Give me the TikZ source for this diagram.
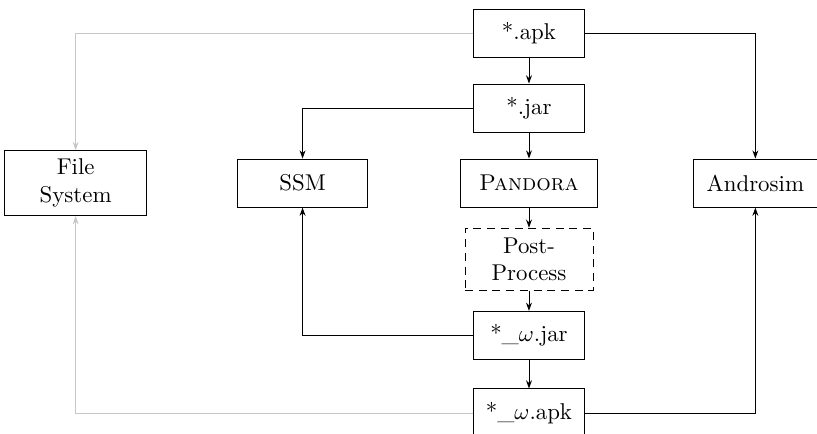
\documentclass[tikz,border=0pt]{standalone}
\usepackage{amsmath,amssymb}
\usepackage{tikz}
\usetikzlibrary{arrows.meta,positioning}

\begin{document}
\begin{tikzpicture}[>={Stealth[length=3.6pt,width=2.6pt]},
	   b/.style={draw, align=center, minimum width=1.72cm, minimum height=0.74cm},
	   faint/.style={black!22}]
	  \useasboundingbox (0,0) rectangle (12.566,-6.675);
	  \node[b] (apk) at (8.136,-0.508) {*.apk};
	  \node[b, below=0.4cm of apk] (jar) {*.jar};
	  \node[b, minimum width=2.107cm, below=0.4cm of jar] (pandora) {\textsc{Pandora}};
	  \node[b, minimum width=1.969cm, minimum height=0.954cm, dash pattern=on 3.5pt off 2.5pt, below=0.31cm of pandora] (post) {Post-\\Process};
	  \node[b, below=0.31cm of post] (wjar) {*\_$\omega$.jar};
	  \node[b, below=0.44cm of wjar] (wapk) {*\_$\omega$.apk};
	  \node[b, minimum width=2.0cm, left=1.415cm of pandora] (ssm) {SSM};
	  \node[b, minimum width=2.184cm, minimum height=1.0cm, left=1.384cm of ssm] (fs) {File\\System};
	  \node[b, minimum width=1.907cm, right=1.461cm of pandora] (andro) {Androsim};
	  \draw[->] (apk)--(jar); \draw[->] (jar)--(pandora);
	  \draw[->] (pandora)--(post); \draw[->] (post)--(wjar);
	  \draw[->] (wjar)--(wapk);
	  \draw[->, faint] (apk) -| (fs);
	  \draw[->] (apk) -| (andro);
	  \draw[->] (jar) -| (ssm);
	  \draw[->] (wjar) -| (ssm);
	  \draw[->, faint] (wapk) -| (fs);
	  \draw[->] (wapk) -| (andro);
	\end{tikzpicture}
\end{document}
